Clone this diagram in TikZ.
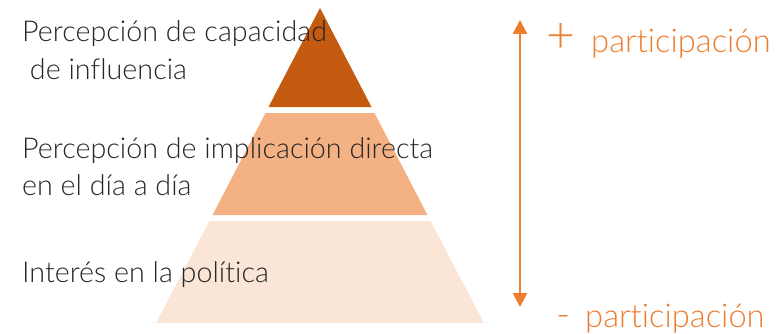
\documentclass[tikz,border=0pt]{standalone}
\usepackage{fontspec}
\setmainfont[Ligatures={NoCommon}]{Lato Light}
\usetikzlibrary{arrows.meta}
\definecolor{topc}{HTML}{C55A11}
\definecolor{midc}{HTML}{F4B183}
\definecolor{botc}{HTML}{FBE5D6}
\definecolor{accent}{HTML}{ED7D31}
\definecolor{txt}{HTML}{262626}
\tikzset{
  lbl/.style={anchor=base west, inner sep=0pt, text=txt, font=\fontsize{28.7}{38}\selectfont, align=left},
  olbl/.style={anchor=base west, inner sep=0pt, text=accent, font=\fontsize{32.7}{38}\selectfont},
  sym/.style={anchor=center, inner sep=0pt, text=accent, font=\fontsize{50}{50}\selectfont},
  hyp/.style={anchor=base west, inner sep=0pt, text=accent, font=\fontsize{38}{38}\selectfont},
  dbl/.style={draw=accent, line width=2.6pt, {Triangle[length=14pt,width=14pt]}-{Triangle[length=14pt,width=14pt]}}
}
\begin{document}
\begin{tikzpicture}[x=1pt,y=-1pt]
\useasboundingbox (0,0) rectangle (783,334);
% pyramid layers
\fill[topc] (320,8) -- (371.5,107) -- (268.5,107) -- cycle;
\fill[midc] (265.5,113) -- (374.5,113) -- (427.5,215) -- (212.5,215) -- cycle;
\fill[botc] (209.5,221) -- (430.5,221) -- (484,323) -- (156,323) -- cycle;
% labels
\node[lbl] (l1) at (22,42) {Percepción de capacidad};
\node[lbl] (l1b) at (22,80) {\ de influencia};
\node[lbl] (l2) at (22,158) {Percepción de implicación directa};
\node[lbl] (l2b) at (22,195) {en el día a día};
\node[lbl] (l3) at (22,282) {Interés en la política};
% arrow
\coordinate (atop) at (520,20);
\coordinate (abot) at (520,307);
\draw[dbl] (atop) -- (abot);
\node[sym] (plus) at (560.5,38) {+};
\node[olbl] (ptop) at (591,53) {participación};
\node[hyp] (minus) at (556,327) {-};
\node[olbl] (pbot) at (585,327) {participación};
\end{tikzpicture}
\end{document}
